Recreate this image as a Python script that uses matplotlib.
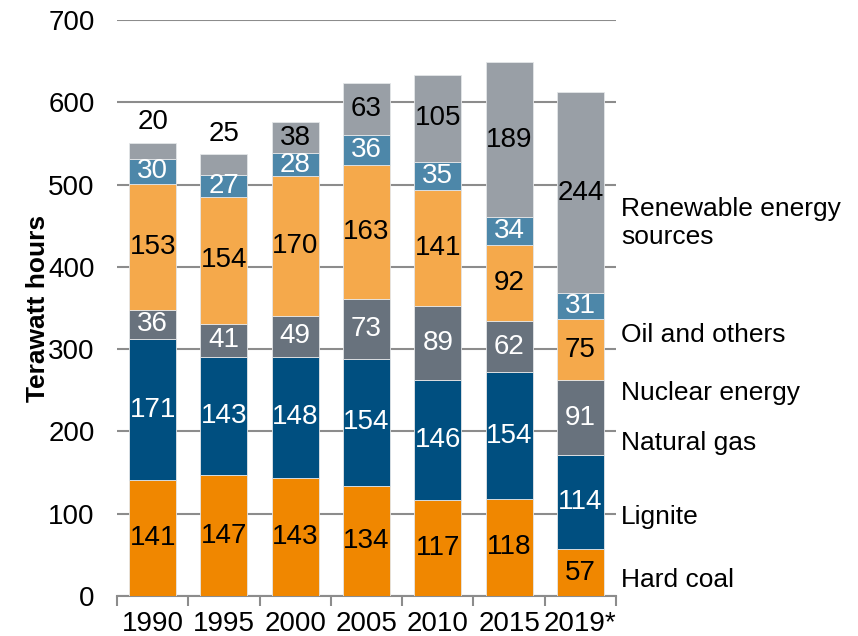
import numpy as np
import matplotlib
matplotlib.use('Agg')
import matplotlib.pyplot as plt

# --- Dados ---
anos = ['1990', '1995', '2000', '2005', '2010', '2015', '2019*']
carvao = [141, 147, 143, 134, 117, 118, 57]
linhito = [171, 143, 148, 154, 146, 154, 114]
gas = [36, 41, 49, 73, 89, 62, 91]
nuclear = [153, 154, 170, 163, 141, 92, 75]
oleo = [30, 27, 28, 36, 35, 34, 31]
renovavel = [20, 25, 38, 63, 105, 189, 244]

nomes = ['Hard coal', 'Lignite', 'Natural gas', 'Nuclear energy',
         'Oil and others', 'Renewable energy\nsources']
nomesY = [19, 96, 186, 247, 317, 453]

series = [carvao, linhito, gas, nuclear, oleo, renovavel]
cores = ['#F08700', '#004F80', '#68727D', '#F5A94B', '#4D87A9', '#999FA6']
corTexto = ['black', 'white', 'white', 'black', 'white', 'black']

plt.rcParams['font.family'] = ['Liberation Sans', 'DejaVu Sans']

fig = plt.figure(figsize=(8.58, 6.36), dpi=100)
ax = fig.add_axes([0.1364, 0.0629, 0.718 - 0.1364, 0.9686 - 0.0629])

x = np.arange(len(anos))
base = np.zeros(len(anos))
for i, valores in enumerate(series):
    v = np.array(valores, dtype=float)
    ax.bar(x, v, bottom=base, width=0.66, color=cores[i],
           edgecolor='#e4e6e8', linewidth=0.6, zorder=3)
    for j in range(len(anos)):
        acima = (i == 5 and v[j] < 30)
        if acima:
            yTexto = base[j] + v[j] + 25
        else:
            yTexto = base[j] + v[j] / 2
        ax.text(x[j], yTexto, str(valores[j]), ha='center', va='center',
                fontsize=20, color='black' if acima else corTexto[i],
                zorder=4)
    base += v

for nome, yy in zip(nomes, nomesY):
    ax.text(6.57, yy, nome, ha='left', va='center', fontsize=19,
            linespacing=1.2, clip_on=False)

ax.set_xlim(-0.5, 6.5)
ax.set_ylim(0, 700)
ax.set_yticks(range(0, 701, 100))
ax.yaxis.grid(True, color='#8c8c8c', linewidth=1.5, zorder=0)
ax.set_axisbelow(True)
ax.tick_params(axis='y', length=0, labelsize=20, pad=16)

ax.set_xticks(x)
ax.set_xticklabels(anos)
ax.set_xticks(np.arange(-0.5, 7, 1), minor=True)
ax.tick_params(axis='x', which='major', length=0, labelsize=20, pad=11)
ax.tick_params(axis='x', which='minor', length=7, width=1.5, color='#8c8c8c')

for lado in ['left', 'right', 'top']:
    ax.spines[lado].set_visible(False)
ax.spines['bottom'].set_color('#8c8c8c')
ax.spines['bottom'].set_linewidth(1.5)

ax.set_ylabel('Terawatt hours', fontsize=19, fontweight='bold', labelpad=-1)

fig.savefig('out.png', dpi=100)
